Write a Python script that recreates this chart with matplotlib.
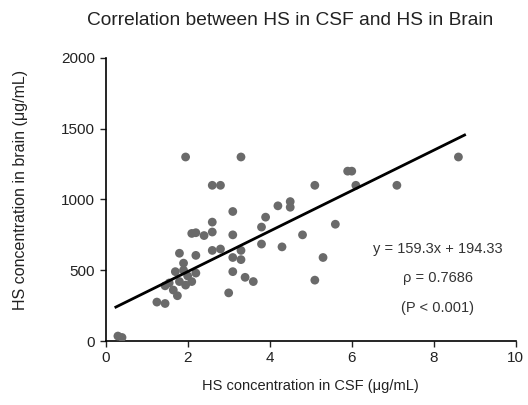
import numpy as np
import matplotlib
matplotlib.use('Agg')
import matplotlib.pyplot as plt

plt.rcParams['font.family'] = ['Liberation Sans', 'DejaVu Sans']

# HS concentration in CSF (ug/mL) vs HS concentration in brain (ug/mL)
csf = [0.3, 0.4, 1.25, 1.45, 1.45, 1.55, 1.65, 1.7, 1.75, 1.8,
       1.8, 1.9, 1.9, 1.95, 1.95, 2.0, 2.1, 2.1, 2.2, 2.2,
       2.2, 2.4, 2.6, 2.6, 2.6, 2.6, 2.8, 2.8, 3.0, 3.1,
       3.1, 3.1, 3.1, 3.3, 3.3, 3.3, 3.4, 3.6, 3.8, 3.8,
       3.9, 4.2, 4.3, 4.5, 4.5, 4.8, 5.1, 5.1, 5.3, 5.6,
       5.9, 6.0, 6.1, 7.1, 8.6]
brain = [35, 25, 275, 265, 390, 410, 360, 490, 320, 620,
         420, 550, 500, 1300, 395, 460, 420, 760, 765, 605,
         480, 745, 840, 770, 640, 1100, 1100, 650, 340, 915,
         750, 590, 490, 1300, 640, 575, 450, 420, 805, 685,
         875, 955, 665, 985, 945, 750, 1100, 430, 590, 825,
         1200, 1200, 1100, 1100, 1300]

# trendline as drawn in the figure
line_slope = 143.0
line_intercept = 204.0

x_ticks = [0, 2, 4, 6, 8, 10]
y_ticks = [0, 500, 1000, 1500, 2000]

eq_text = 'y = 159.3x + 194.33'
rho_text = 'ρ = 0.7686'
p_text = '(P < 0.001)'

fig = plt.figure(figsize=(5.28, 4.05), dpi=100)
ax = fig.add_axes([0.2, 0.158, 0.777, 0.699])

ax.scatter(csf, brain, s=40, color='#6a6a6a', edgecolors='none', zorder=3)

xs = np.array([min(csf) - 0.05, max(csf) + 0.15])
ax.plot(xs, line_slope * xs + line_intercept, color='black', lw=2, zorder=4)

ax.set_xlim(0, 10)
ax.set_ylim(0, 2000)
ax.set_xticks(x_ticks)
ax.set_yticks(y_ticks)
ax.tick_params(direction='out', length=4, width=1, labelsize=11, colors='#222222')
for side in ['top', 'right']:
    ax.spines[side].set_visible(False)
for side in ['left', 'bottom']:
    ax.spines[side].set_linewidth(1.2)

ax.set_xlabel('HS concentration in CSF (μg/mL)', fontsize=10.5, color='#222222', labelpad=10)
fig.text(0.038, 0.531, 'HS concentration in brain (μg/mL)', rotation=90,
         ha='center', va='center', fontsize=11.5, color='#222222')
fig.text(0.55, 0.95, 'Correlation between HS in CSF and HS in Brain',
         ha='center', va='center', fontsize=13.8, color='#222222')

ax.text(8.1, 651, eq_text, ha='center', va='center', fontsize=10.5, color='#333333')
ax.text(8.1, 446, rho_text, ha='center', va='center', fontsize=10.5, color='#333333')
ax.text(8.1, 234, p_text, ha='center', va='center', fontsize=10.5, color='#333333')

fig.savefig('out.png', dpi=100)
